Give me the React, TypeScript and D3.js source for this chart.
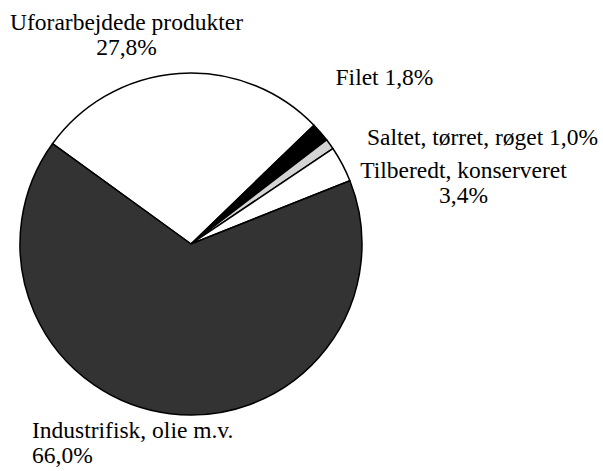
import React from "react";
import * as d3 from "d3";

const categories = [
  "Uforarbejdede produkter",
  "Filet",
  "Saltet, tørret, røget",
  "Tilberedt, konserveret",
  "Industrifisk, olie m.v.",
];
const values = [27.8, 1.8, 1.0, 3.4, 66.0];
const valueLabels = ["27,8%", "1,8%", "1,0%", "3,4%", "66,0%"];
const colors = ["#ffffff", "#000000", "#d4d4d4", "#ffffff", "#333333"];

// label layout: lines, x, first baseline, anchor
const labelLayout = [
  { multi: true, x: 126.5, y: 30, anchor: "middle" },
  { multi: false, x: 384.5, y: 85, anchor: "middle" },
  { multi: false, x: 482.5, y: 145, anchor: "middle" },
  { multi: true, x: 463.5, y: 178, anchor: "middle" },
  { multi: true, x: 32, y: 438, anchor: "start" },
];

export default function App() {
  const W = 603, H = 471;
  const cx = 191, cy = 244, r = 171;
  const start = (-54.1 * Math.PI) / 180;
  const pie = d3.pie<number>().sort(null).value((d) => d).startAngle(start).endAngle(start + 2 * Math.PI);
  const arcs = pie(values);
  const arc = d3.arc<d3.PieArcDatum<number>>().innerRadius(0).outerRadius(r);
  return (
    <svg width={W} height={H} style={{ position: "absolute", left: 0, top: 0, background: "#fff" }}>
      <g transform={`translate(${cx},${cy})`}>
        {arcs.map((a, i) => (
          <path key={i} d={arc(a) || ""} fill={colors[i]} stroke="#000" strokeWidth={1.5} strokeLinejoin="round" />
        ))}
      </g>
      {labelLayout.map((l, i) => {
        const lines = l.multi ? [categories[i], valueLabels[i]] : [categories[i] + " " + valueLabels[i]];
        return (
          <text key={i} x={l.x} y={l.y} textAnchor={l.anchor as any} style={{ fontFamily: "Liberation Serif", fontSize: "23.5px" }} fill="#000">
            {lines.map((t, j) => (
              <tspan key={j} x={l.x} dy={j === 0 ? 0 : 25}>{t}</tspan>
            ))}
          </text>
        );
      })}
    </svg>
  );
}
